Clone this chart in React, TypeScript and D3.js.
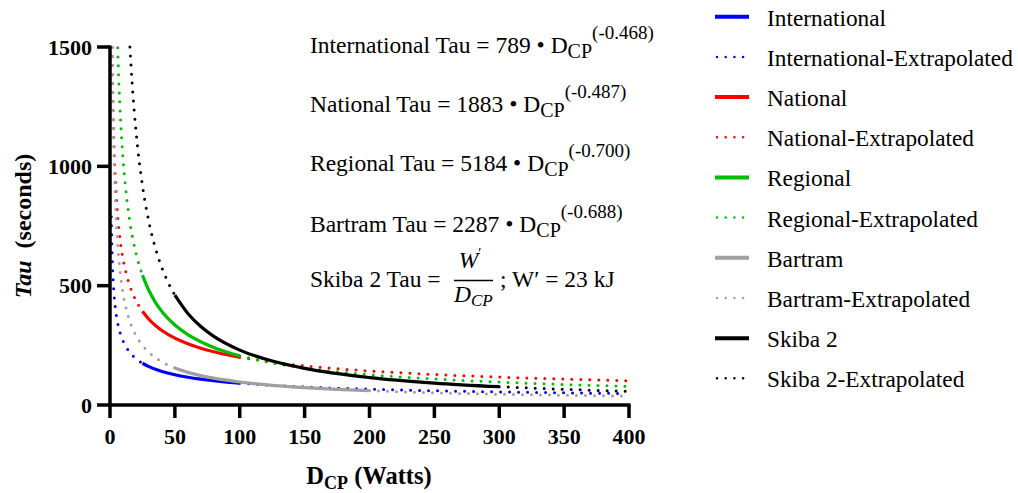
import * as d3 from "d3";

const WIDTH = 1018;
const HEIGHT = 493;
const PLOT = { left: 110, right: 629, top: 47, bottom: 405 };

// [D_CP (W), Tau (s)]
const intlExtraLow = [[1, 789], [1.5, 652.6], [2, 570.5], [3, 471.8], [4, 412.4], [5, 371.6], [6, 341.1], [8, 298.2], [10, 268.6], [12, 246.6], [15, 222.2], [20, 194.2], [25, 174.9]];
const intlFit = [[25, 174.9], [30, 160.6], [35, 149.5], [40, 140.4], [50, 126.5], [60, 116.2], [70, 108.1], [80, 101.5], [90, 96.0], [100, 91.4]];
const intlExtraHigh = [[100, 91.4], [125, 82.4], [150, 75.6], [200, 66.1], [250, 59.6], [300, 54.7], [350, 50.9], [398, 47.9]];

const natExtraLow = [[1.6, 1497.8], [2, 1343.5], [3, 1102.9], [4, 958.6], [5, 860.0], [6, 786.9], [8, 683.9], [10, 613.5], [12, 561.5], [15, 503.7], [20, 437.8], [25, 392.8]];
const natFit = [[25, 392.8], [30, 359.3], [35, 333.3], [40, 312.4], [50, 280.2], [60, 256.3], [70, 237.8], [80, 222.9], [90, 210.5], [100, 200.0]];
const natExtraHigh = [[100, 200.0], [125, 179.3], [150, 164.2], [200, 142.5], [250, 127.9], [300, 117.1], [350, 108.7], [400, 101.7]];

const regExtraLow = [[5.9, 1496.6], [7, 1327.6], [8, 1209.4], [10, 1034.2], [12, 910.3], [15, 778.6], [20, 636.6], [25, 544.3]];
const regFit = [[25, 544.3], [30, 479.5], [35, 430.3], [40, 391.9], [50, 335.4], [60, 295.0], [70, 264.9], [80, 241.1], [90, 222.4], [100, 206.3]];
const regExtraHigh = [[100, 206.3], [125, 176.3], [150, 155.5], [200, 127.0], [250, 108.9], [300, 95.9], [350, 86.1], [400, 78.3]];

const bartExtraLow = [[1.85, 1497.7], [2, 1419.5], [3, 1074.0], [4, 881.2], [5, 755.9], [6, 666.7], [8, 547.1], [10, 469.1], [12, 413.7], [15, 354.9], [20, 291.1], [25, 249.7], [30, 220.2], [40, 180.7], [50, 155.1]];
const bartFit = [[50, 155.1], [60, 136.8], [70, 123.0], [80, 112.3], [100, 96.3], [125, 82.6], [150, 72.8], [175, 65.4], [200, 59.7]];
const bartExtraHigh = [[200, 59.7], [250, 51.2], [300, 45.2], [350, 40.7], [398, 37.2]];

const skibaExtraLow = [[15.33, 1500], [17, 1352.9], [20, 1150], [25, 920], [30, 766.7], [35, 657.1], [40, 575], [45, 511.1], [50, 460]];
const skibaFit = [[50, 460], [60, 383.3], [70, 328.6], [80, 287.5], [100, 230], [125, 184], [150, 153.3], [200, 115], [250, 92], [300, 76.7]];
const skibaExtraHigh = [[300, 76.7], [350, 65.7], [398, 57.8]];

const X_TICKS = [0, 50, 100, 150, 200, 250, 300, 350, 400];
const Y_TICKS = [0, 500, 1000, 1500];

const SERIES = [
  { name: "International", color: "#0000ff", fit: intlFit, extra: [intlExtraLow, intlExtraHigh] },
  { name: "National", color: "#ff0000", fit: natFit, extra: [natExtraLow, natExtraHigh] },
  { name: "Regional", color: "#00bf00", fit: regFit, extra: [regExtraLow, regExtraHigh] },
  { name: "Bartram", color: "#a0a0a4", fit: bartFit, extra: [bartExtraLow, bartExtraHigh] },
  { name: "Skiba 2", color: "#000000", fit: skibaFit, extra: [skibaExtraLow, skibaExtraHigh] },
];

const EQUATIONS = [
  { label: "International Tau = 789 • D", exp: "(-0.468)" },
  { label: "National Tau = 1883 • D", exp: "(-0.487)" },
  { label: "Regional Tau = 5184 • D", exp: "(-0.700)" },
  { label: "Bartram Tau = 2287 • D", exp: "(-0.688)" },
];
const EQ_BASELINES = [53, 112, 171, 232];

const SERIF = "'Liberation Serif', 'Times New Roman', serif";
const EQ_SIZE = 23.5;

export default function App() {
  const x = d3.scaleLinear().domain([0, 400]).range([PLOT.left, PLOT.right]);
  const y = d3.scaleLinear().domain([0, 1500]).range([PLOT.bottom, PLOT.top]);
  const line = d3
    .line<number[]>()
    .x((d) => x(d[0]))
    .y((d) => y(d[1]))
    .curve(d3.curveMonotoneX);

  const legendRows = SERIES.flatMap((s) => [
    { label: s.name, color: s.color, dotted: false },
    { label: `${s.name}-Extrapolated`, color: s.color, dotted: true },
  ]);

  return (
    <svg
      width={WIDTH}
      height={HEIGHT}
      style={{ position: "absolute", left: 0, top: 0, background: "#fff" }}
      fontFamily={SERIF}
    >
      {/* curves */}
      {SERIES.map((s) => (
        <g key={s.name}>
          {s.extra.map((seg, i) => (
            <path
              key={i}
              d={line(seg) || ""}
              fill="none"
              stroke={s.color}
              strokeWidth={3}
              strokeLinecap="round"
              strokeDasharray="0 9"
            />
          ))}
          <path d={line(s.fit) || ""} fill="none" stroke={s.color} strokeWidth={3.2} />
        </g>
      ))}

      {/* axes */}
      <line x1={PLOT.left} x2={PLOT.left} y1={PLOT.top - 1.5} y2={PLOT.bottom + 1.5} stroke="#000" strokeWidth={3.5} />
      <line x1={PLOT.left - 1.5} x2={PLOT.right + 1.5} y1={PLOT.bottom} y2={PLOT.bottom} stroke="#000" strokeWidth={3.5} />
      {Y_TICKS.map((t) => (
        <g key={`y-${t}`}>
          <line x1={PLOT.left - 13} x2={PLOT.left} y1={y(t)} y2={y(t)} stroke="#000" strokeWidth={3.5} />
          <text x={92} y={y(t) + 7.5} textAnchor="end" fontSize={22} fontWeight="bold">
            {t}
          </text>
        </g>
      ))}
      {X_TICKS.map((t) => (
        <g key={`x-${t}`}>
          <line x1={x(t)} x2={x(t)} y1={PLOT.bottom} y2={PLOT.bottom + 13} stroke="#000" strokeWidth={3.5} />
          <text x={x(t)} y={444} textAnchor="middle" fontSize={22} fontWeight="bold">
            {t}
          </text>
        </g>
      ))}

      {/* axis titles */}
      <text x={369} y={484} textAnchor="middle" fontSize={24.5} fontWeight="bold">
        D<tspan fontSize={18} dy={5}>CP</tspan>
        <tspan dy={-5}> (Watts)</tspan>
      </text>
      <text transform="translate(31 226) rotate(-90)" textAnchor="middle" fontSize={24} fontWeight="bold">
        <tspan fontStyle="italic">Tau</tspan>
        <tspan dx={6}> (seconds)</tspan>
      </text>

      {/* equations */}
      {EQUATIONS.map((eq, i) => (
        <text key={eq.label} x={310} y={EQ_BASELINES[i]} fontSize={EQ_SIZE}>
          {eq.label}
          <tspan fontSize={20} dy={5}>CP</tspan>
          <tspan fontSize={19} dy={-19}>{eq.exp}</tspan>
        </text>
      ))}
      <text x={310} y={287} fontSize={EQ_SIZE}>Skiba 2 Tau =</text>
      <text x={470} y={268} fontSize={EQ_SIZE} fontStyle="italic" textAnchor="middle">
        W<tspan fontSize={14} dy={-10} fontStyle="normal">′</tspan>
      </text>
      <line x1={454} x2={493} y1={280.5} y2={280.5} stroke="#000" strokeWidth={1.5} />
      <text x={454} y={302} fontSize={EQ_SIZE} fontStyle="italic">
        D<tspan fontSize={17} dy={4}>CP</tspan>
      </text>
      <text x={500} y={287} fontSize={EQ_SIZE}>; W′ = 23 kJ</text>

      {/* legend */}
      {legendRows.map((row, i) => {
        const cy = 16.7 + i * 40.18;
        return (
          <g key={row.label}>
            <line
              x1={row.dotted ? 717 : 715}
              x2={749}
              y1={cy}
              y2={cy}
              stroke={row.color}
              strokeWidth={row.dotted ? 2.5 : 4}
              strokeLinecap={row.dotted ? "round" : "butt"}
              strokeDasharray={row.dotted ? "0 8.7" : undefined}
            />
            <text x={767} y={cy + 9} fontSize={23.3}>
              {row.label}
            </text>
          </g>
        );
      })}
    </svg>
  );
}
